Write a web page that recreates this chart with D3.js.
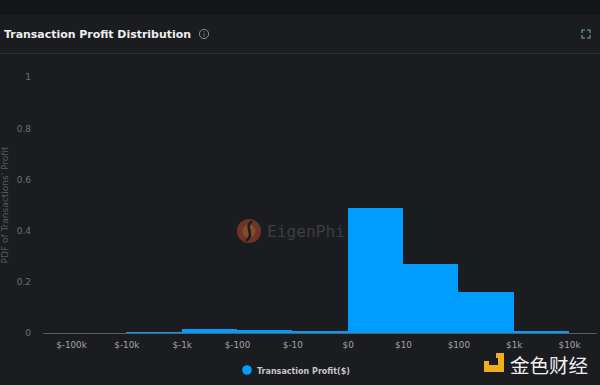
<!DOCTYPE html>
<html><head><meta charset="utf-8">
<script src="https://cdn.jsdelivr.net/npm/d3@7"></script>
<style>html,body{margin:0;padding:0;background:#1b1c20;overflow:hidden}svg{display:block}</style>
</head><body><svg id="c" width="600" height="385"></svg>
<script>
const tickLabels=["$-100k","$-10k","$-1k","$-100","$-10","$0","$10","$100","$1k","$10k"];
const binStarts=["$-10k","$-1k","$-100","$-10","$0","$10","$100","$1k"];
const binEnds=["$-1k","$-100","$-10","$0","$10","$100","$1k","$10k"];
const pdfValues=[0.003,0.017,0.012,0.008,0.488,0.27,0.16,0.008];
const yTicks=[0,0.2,0.4,0.6,0.8,1];
const chartTitle="Transaction Profit Distribution";
const yTitle="PDF of Transactions' Profit";
const seriesName="Transaction Profit($)";

const svg=d3.select("#c");
const font="'DejaVu Sans',sans-serif";
svg.append("rect").attr("width",600).attr("height",15).attr("fill","#141518");
svg.append("rect").attr("y",15).attr("width",600).attr("height",370).attr("fill","#1b1c20");
svg.append("line").attr("x1",0).attr("x2",600).attr("y1",53.5).attr("y2",53.5).attr("stroke","#2e2f33");
svg.append("text").attr("x",4).attr("y",38).attr("fill","#eeeeee").attr("font-family",font)
  .attr("font-weight",700).attr("font-size",10.95).text(chartTitle);

// info icon
const info=svg.append("g").attr("transform","translate(204,34)");
info.append("circle").attr("r",4.6).attr("fill","none").attr("stroke","#8a8b8d").attr("stroke-width",1);
info.append("text").attr("y",3).attr("text-anchor","middle").attr("fill","#8a8b8d").attr("font-family",font).attr("font-size",7.5).text("i");

// expand icon
const ex=svg.append("g").attr("fill","none").attr("stroke","#6f9f98").attr("stroke-width",1.2);
[[582,38,1,-1],[590,38,-1,-1],[582,30,1,1],[590,30,-1,1]].forEach(([x,y,dx,dy])=>{
  ex.append("path").attr("d",d3.line()([[x+dx*3,y],[x,y],[x,y+dy*3]]));
});

const x=d3.scalePoint().domain(tickLabels).range([43.3,596.7]).padding(0.5);
const y=d3.scaleLinear().domain([0,1]).range([333,77]);

// watermark
const wm=svg.append("g");
wm.append("circle").attr("cx",249).attr("cy",231).attr("r",12).attr("fill","#6e3526");
wm.append("circle").attr("cx",249).attr("cy",231).attr("r",6.5).attr("fill","#7d5029");
wm.append("path").attr("d","M252 221C243 227 256 234 246 241").attr("fill","none").attr("stroke","#1f1b1d").attr("stroke-width",2.6);
wm.append("text").attr("x",267).attr("y",237).attr("fill","#3c3d41").attr("font-family","'DejaVu Sans Mono',monospace").attr("font-size",16.2).text("EigenPhi");

// bars
svg.append("g").attr("shape-rendering","crispEdges").selectAll("rect").data(pdfValues).join("rect")
  .attr("x",(d,i)=>x(binStarts[i]))
  .attr("width",(d,i)=>x(binEnds[i])-x(binStarts[i]))
  .attr("y",d=>y(d))
  .attr("height",d=>y(0)-y(d))
  .attr("fill","#009dff");

// axes
const gx=svg.append("g").attr("transform","translate(0,333.5)")
  .call(d3.axisBottom(x).tickSize(0).tickPadding(8));
gx.select(".domain").attr("stroke","#5c5d60").attr("d","M43.3,0H596.7");
gx.selectAll("text").attr("fill","#a3a4a6").attr("font-family",font).attr("font-size",8.8);

const gy=svg.append("g").attr("transform","translate(31,0)")
  .call(d3.axisLeft(y).tickValues(yTicks).tickSize(0).tickPadding(0).tickFormat(d3.format("~g")));
gy.select(".domain").remove();
gy.selectAll("text").attr("fill","#6e6f72").attr("font-family",font).attr("font-size",9);

svg.append("text").attr("transform","translate(8,205) rotate(-90)").attr("text-anchor","middle")
  .attr("fill","#58595c").attr("font-family",font).attr("font-size",9).text(yTitle);

// legend
svg.append("circle").attr("cx",247).attr("cy",370).attr("r",4.8).attr("fill","#009dff");
svg.append("text").attr("x",257).attr("y",374).attr("fill","#c4c5c7").attr("font-family",font)
  .attr("font-size",8.0).attr("font-weight",700).text(seriesName);

// source badge
const lg=svg.append("g").attr("fill","#f0ae1a");
lg.append("path").attr("d","M496 353H504V372H484V365H498V358H496Z");
lg.append("rect").attr("x",484).attr("y",361).attr("width",5).attr("height",5);
svg.append("text").attr("x",510).attr("y",373).attr("fill","#eeeeee").attr("font-family","'Noto Sans CJK SC',sans-serif")
  .attr("font-size",19.5).attr("font-weight",400).text("金色财经");
</script></body></html>
